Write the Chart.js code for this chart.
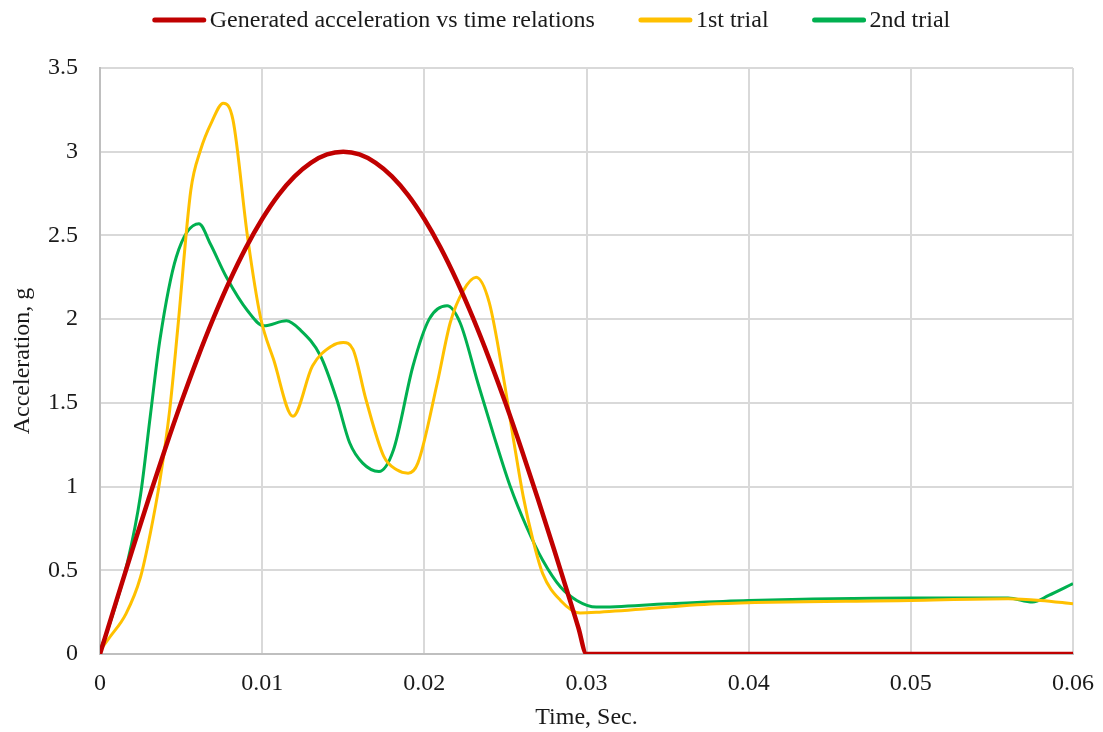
<!DOCTYPE html>
<html>
<head>
<meta charset="utf-8">
<script src="https://cdn.jsdelivr.net/npm/chart.js@4/dist/chart.umd.min.js"></script>
<style>
  html, body { margin: 0; padding: 0; background: #fff; }
  #wrap { width: 1103px; height: 732px; }
</style>
</head>
<body>
<div id="wrap"><canvas id="accelChart"></canvas></div>
<script>
// ================================
//          DATA
// ================================
const seriesNames = ["Generated acceleration vs time relations", "1st trial", "2nd trial"];

// generated half-sine pulse, 3 g over 30 ms, then flat zero
const genTime  = [0, 0.001, 0.002, 0.003, 0.004, 0.005, 0.006, 0.007, 0.008, 0.009, 0.01,
                  0.011, 0.012, 0.013, 0.014, 0.015, 0.016, 0.017, 0.018, 0.019, 0.02,
                  0.021, 0.022, 0.023, 0.024, 0.025, 0.026, 0.027, 0.028, 0.029, 0.0295, 0.03, 0.06];
const genAccel = [0, 0.314, 0.624, 0.927, 1.22, 1.5, 1.763, 2.007, 2.229, 2.427, 2.598,
                  2.741, 2.853, 2.934, 2.984, 3.0, 2.984, 2.934, 2.853, 2.741, 2.598,
                  2.427, 2.229, 2.007, 1.763, 1.5, 1.22, 0.927, 0.624, 0.314, 0.157, 0, 0];

const trial1Time  = [0, 0.0006, 0.0016, 0.0025, 0.0031, 0.0037, 0.0043, 0.0048, 0.0056, 0.0062, 0.0069, 0.0076, 0.0082, 0.0091, 0.0099,
                     0.0107, 0.0119, 0.0131, 0.0143, 0.015, 0.0156, 0.0164, 0.0175, 0.0183, 0.019, 0.0196, 0.0208, 0.0216, 0.0224,
                     0.0232, 0.024, 0.0249, 0.0255, 0.0261, 0.0267, 0.0273, 0.0284, 0.0296, 0.0308, 0.038, 0.05, 0.056, 0.058, 0.06];
const trial1Accel = [0.02, 0.10, 0.24, 0.46, 0.72, 1.04, 1.46, 1.95, 2.77, 3.01, 3.18, 3.29, 3.19, 2.49, 2.01,
                     1.76, 1.42, 1.72, 1.84, 1.86, 1.82, 1.52, 1.18, 1.10, 1.08, 1.14, 1.62, 1.98, 2.17,
                     2.25, 2.10, 1.64, 1.28, 0.94, 0.68, 0.48, 0.32, 0.245, 0.25, 0.30, 0.32, 0.33, 0.32, 0.30];

const trial2Time  = [0, 0.0006, 0.0017, 0.0025, 0.0031, 0.0037, 0.0047, 0.0061, 0.0068, 0.0078, 0.0091, 0.0101, 0.0115, 0.0123,
                     0.0136, 0.0146, 0.0154, 0.0162, 0.0172, 0.0181, 0.0193, 0.0203, 0.0214, 0.0222, 0.0233, 0.0243, 0.0253,
                     0.0263, 0.0273, 0.0284, 0.0294, 0.0306, 0.035, 0.04, 0.05, 0.056, 0.0575, 0.0585, 0.06];
const trial2Accel = [0.02, 0.18, 0.55, 0.95, 1.42, 1.88, 2.37, 2.57, 2.45, 2.25, 2.05, 1.96, 1.99, 1.94,
                     1.78, 1.52, 1.26, 1.14, 1.09, 1.22, 1.72, 2.00, 2.08, 1.98, 1.62, 1.30, 1.00,
                     0.76, 0.56, 0.40, 0.32, 0.28, 0.30, 0.32, 0.335, 0.335, 0.31, 0.35, 0.42];

const xTicks = [0, 0.01, 0.02, 0.03, 0.04, 0.05, 0.06];
const yTicks = [0, 0.5, 1, 1.5, 2, 2.5, 3, 3.5];

const toPoints = (xs, ys) => xs.map((x, i) => ({ x: x, y: ys[i] }));

// ================================
//       LEGEND (line swatches)
// ================================
const FONT = '"Liberation Serif", "Times New Roman", serif';
const FONT_SIZE = 24;

const lineLegend = {
  id: "lineLegend",
  afterDraw(chart) {
    const ctx = chart.ctx;
    ctx.save();
    ctx.font = FONT_SIZE + "px " + FONT;
    ctx.textBaseline = "middle";
    const swatch = 53, gap = 4, spacing = 44, y = 20;
    const items = chart.data.datasets.map(ds => ({
      text: ds.label,
      color: ds.borderColor,
      w: ctx.measureText(ds.label).width
    }));
    const total = items.reduce((s, it) => s + swatch + gap + it.w, 0) + spacing * (items.length - 1);
    let x = (chart.width - total) / 2;
    items.forEach(it => {
      ctx.strokeStyle = it.color;
      ctx.lineWidth = 5;
      ctx.lineCap = "round";
      ctx.beginPath();
      ctx.moveTo(x + 2, y);
      ctx.lineTo(x + swatch - 2, y);
      ctx.stroke();
      ctx.fillStyle = "#1a1a1a";
      ctx.fillText(it.text, x + swatch + gap, y + 1);
      x += swatch + gap + it.w + spacing;
    });
    ctx.restore();
  }
};

// ================================
//          CHART
// ================================
new Chart(document.getElementById("accelChart"), {
  type: "line",
  data: {
    datasets: [
      {
        label: seriesNames[0],
        data: toPoints(genTime, genAccel),
        borderColor: "#C00000",
        borderWidth: 4.5,
      },
      {
        label: seriesNames[1],
        data: toPoints(trial1Time, trial1Accel),
        borderColor: "#FFC000",
        borderWidth: 3,
      },
      {
        label: seriesNames[2],
        data: toPoints(trial2Time, trial2Accel),
        borderColor: "#00B050",
        borderWidth: 3,
      },
    ],
  },
  options: {
    responsive: true,
    maintainAspectRatio: false,
    animation: false,
    layout: { padding: { top: 68, right: 30, left: 0, bottom: 0 } },
    elements: {
      point: { radius: 0, hoverRadius: 0 },
      line: { cubicInterpolationMode: "monotone", fill: false, borderJoinStyle: "round" },
    },
    plugins: {
      legend: { display: false },
      tooltip: { enabled: false },
    },
    scales: {
      x: {
        type: "linear",
        min: 0,
        max: 0.06,
        afterFit: (scale) => {
          scale.height = 78;
          // last tick label may hang into the right margin
          scale.paddingLeft = 0;
          scale.paddingRight = 0;
        },
        afterBuildTicks: (scale) => { scale.ticks = xTicks.map(v => ({ value: v })); },
        ticks: {
          padding: 15,
          color: "#1a1a1a",
          font: { family: FONT, size: FONT_SIZE },
          callback: (v) => String(v),
        },
        grid: { color: "#d9d9d9", lineWidth: 2, drawTicks: false },
        border: { color: "#bfbfbf", width: 2 },
        title: {
          display: true,
          text: "Time, Sec.",
          color: "#1a1a1a",
          font: { family: FONT, size: FONT_SIZE },
          padding: { top: 0, bottom: 0 },
        },
      },
      y: {
        min: 0,
        max: 3.5,
        afterFit: (scale) => { scale.width = 100; },
        afterBuildTicks: (scale) => { scale.ticks = yTicks.map(v => ({ value: v })); },
        ticks: {
          padding: 22,
          color: "#1a1a1a",
          font: { family: FONT, size: FONT_SIZE },
          callback: (v) => String(v),
        },
        grid: { color: "#d9d9d9", lineWidth: 2, drawTicks: false },
        border: { color: "#bfbfbf", width: 2 },
        title: {
          display: true,
          text: "Acceleration, g",
          color: "#1a1a1a",
          font: { family: FONT, size: FONT_SIZE },
          padding: { top: 8, bottom: 0 },
        },
      },
    },
  },
  plugins: [lineLegend],
});
</script>
</body>
</html>
